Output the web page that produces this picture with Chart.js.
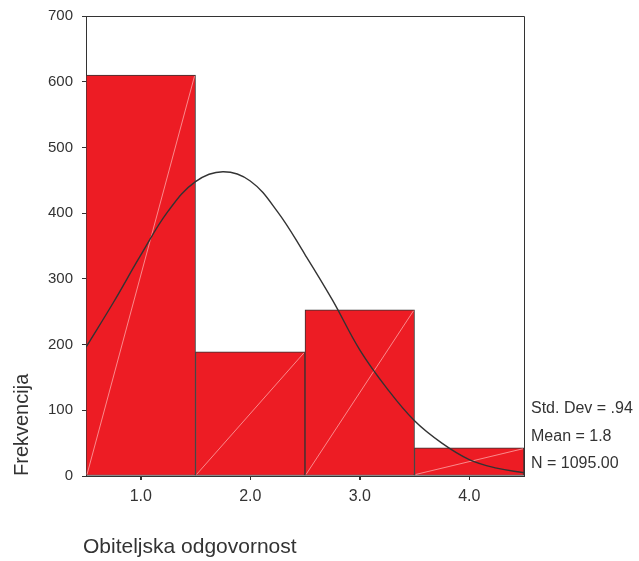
<!DOCTYPE html>
<html>
<head>
<meta charset="utf-8">
<script src="https://cdn.jsdelivr.net/npm/chart.js@4"></script>
<style>
  html, body { margin: 0; padding: 0; background: #fff; }
  #wrap { width: 639px; height: 561px; }
</style>
</head>
<body>
<div id="wrap"><canvas id="c" width="639" height="561"></canvas></div>
<script>
// ---- data ----
const binCenters = [1, 2, 3, 4];
const frequencies = [610, 189, 253, 43];
const curveX = [0.5, 0.75, 1.0, 1.25, 1.5, 1.75, 2.0, 2.25, 2.5, 2.75, 3.0, 3.25, 3.5, 3.75, 4.0, 4.25, 4.5];
const curveY = [196, 264, 336, 403, 448, 463, 449, 402, 337, 268, 192, 133, 84, 50, 25, 12, 5];
const xTicks = [1, 2, 3, 4];
const yTicks = [0, 100, 200, 300, 400, 500, 600, 700];
const statsLines = ['Std. Dev = .94', 'Mean = 1.8', 'N = 1095.00'];
const xTitle = 'Obiteljska odgovornost';
const yTitle = 'Frekvencija';

const INK = '#333333';
const FONT = '"Liberation Sans", Arial, Helvetica, sans-serif';

const diagPlugin = {
  id: 'diag',
  afterDatasetDraw(chart, args) {
    if (args.index !== 0) return;
    const ctx = chart.ctx;
    ctx.save();
    ctx.strokeStyle = 'rgba(255,190,190,0.85)';
    ctx.lineWidth = 0.8;
    args.meta.data.forEach(bar => {
      const p = bar.getProps(['x', 'y', 'base', 'width'], true);
      ctx.beginPath();
      ctx.moveTo(p.x - p.width / 2 + 1, p.base - 1);
      ctx.lineTo(p.x + p.width / 2 - 1, p.y + 1);
      ctx.stroke();
    });
    ctx.restore();
  }
};

const framePlugin = {
  id: 'frame',
  afterDraw(chart) {
    const ctx = chart.ctx;
    const a = chart.chartArea;
    const xs = chart.scales.x;
    ctx.save();
    ctx.strokeStyle = INK;
    ctx.lineWidth = 1;
    ctx.beginPath();
    ctx.moveTo(a.left - 4, Math.round(a.top) + 0.5);
    ctx.lineTo(Math.round(a.right) + 0.5, Math.round(a.top) + 0.5);
    ctx.lineTo(Math.round(a.right) + 0.5, a.bottom);
    // x tick marks
    xTicks.forEach(v => {
      const px = Math.round(xs.getPixelForValue(v)) + 0.5;
      ctx.moveTo(px, a.bottom);
      ctx.lineTo(px, a.bottom + 4);
    });
    ctx.stroke();

    // stats text
    ctx.fillStyle = INK;
    ctx.font = '16px ' + FONT;
    ctx.textBaseline = 'alphabetic';
    ctx.textAlign = 'left';
    const sx = a.right + 7;
    statsLines.forEach((t, i) => {
      ctx.fillText(t, sx, a.bottom - 63 + i * 27.7);
    });

    // x title
    ctx.font = '21px ' + FONT;
    ctx.fillText(xTitle, a.left - 3, a.bottom + 77);

    // y title
    ctx.font = '20px ' + FONT;
    ctx.save();
    ctx.translate(28, a.bottom);
    ctx.rotate(-Math.PI / 2);
    ctx.textAlign = 'left';
    ctx.fillText(yTitle, 0, 0);
    ctx.restore();
    ctx.restore();
  }
};

new Chart(document.getElementById('c'), {
  type: 'bar',
  data: {
    datasets: [
      {
        type: 'bar',
        order: 1,
        data: binCenters.map((x, i) => ({ x: x, y: frequencies[i] })),
        backgroundColor: '#ED1C24',
        borderColor: INK,
        borderWidth: 1,
        borderSkipped: false,
        barPercentage: 1,
        categoryPercentage: 1,
        grouped: false
      },
      {
        type: 'line',
        order: 0,
        data: curveX.map((x, i) => ({ x: x, y: curveY[i] })),
        borderColor: INK,
        borderWidth: 1.4,
        pointRadius: 0,
        fill: false,
        tension: 0.4
      }
    ]
  },
  options: {
    responsive: false,
    animation: false,
    devicePixelRatio: 1,
    layout: { padding: { top: 16, right: 115, bottom: 0, left: 0 } },
    plugins: { legend: { display: false }, tooltip: { enabled: false } },
    scales: {
      x: {
        type: 'linear',
        offset: false,
        min: 0.5,
        max: 4.5,
        afterBuildTicks(scale) { scale.ticks = xTicks.map(v => ({ value: v })); },
        afterFit(scale) { scale.height = 85; scale.paddingLeft = 0; scale.paddingRight = 0; },
        grid: { display: true, offset: false, drawOnChartArea: false, tickLength: 4, color: INK, tickColor: INK },
        border: { display: true, color: INK, width: 1 },
        ticks: {
          color: INK,
          font: { family: FONT, size: 16 },
          padding: 7,
          callback: v => v.toFixed(1),
          maxRotation: 0
        }
      },
      y: {
        min: 0,
        max: 700,
        afterBuildTicks(scale) { scale.ticks = yTicks.map(v => ({ value: v })); },
        afterFit(scale) { scale.width = 86; scale.paddingTop = 0; scale.paddingBottom = 0; },
        grid: { display: true, drawOnChartArea: false, tickLength: 4, color: INK, tickColor: INK },
        border: { display: true, color: INK, width: 1 },
        ticks: {
          color: INK,
          font: { family: FONT, size: 15 },
          padding: 9
        }
      }
    }
  },
  plugins: [diagPlugin, framePlugin]
});
</script>
</body>
</html>
